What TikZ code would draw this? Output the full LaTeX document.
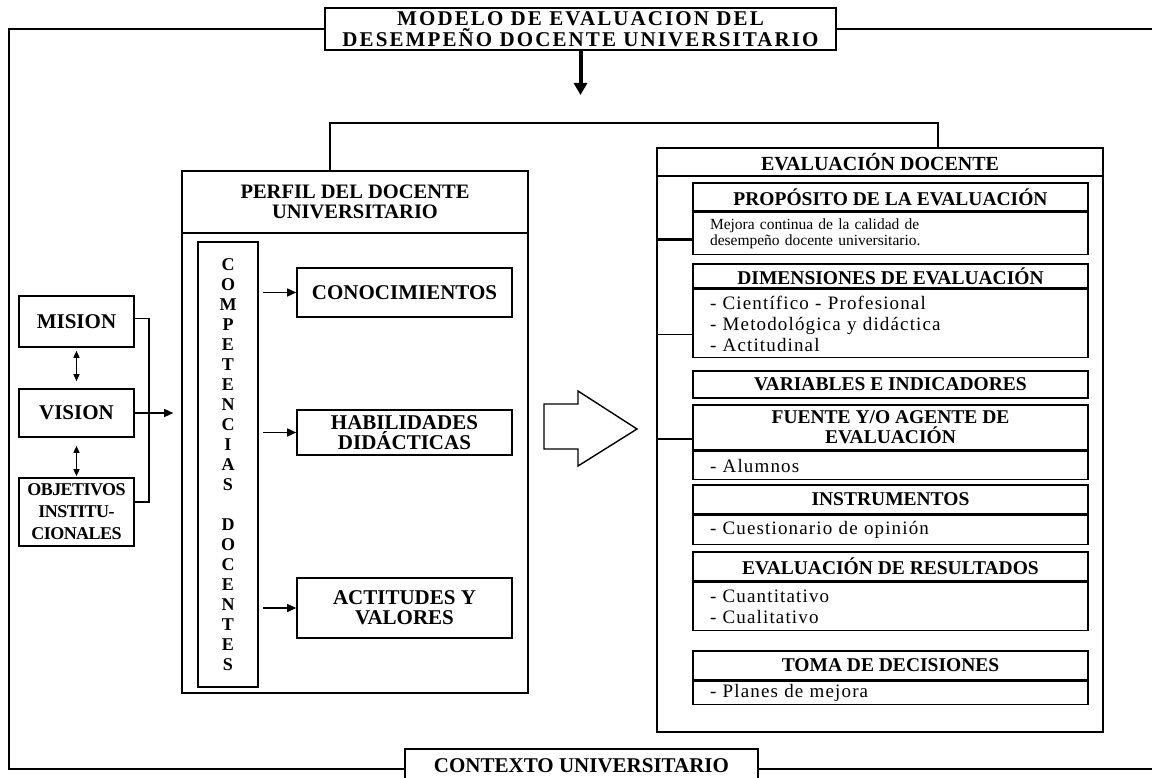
\documentclass[tikz,border=0pt]{standalone}
\usepackage{fontspec}
\setmainfont{Liberation Serif}
\usepackage{tikz}
\usetikzlibrary{arrows.meta,positioning}

\tikzset{
  caja/.style={draw, line width=1.6pt, inner sep=0pt, align=center,
    font=\bfseries\fontsize{21}{20}\selectfont},
  cabeza/.style={caja, minimum width=395pt, font=\bfseries\fontsize{19.5}{20}\selectfont},
  cuerpo/.style={draw, line width=1.6pt, anchor=north, minimum width=395pt, text width=361pt,
    inner xsep=17pt, inner ysep=0pt, align=left,
    font=\fontsize{19}{21}\selectfont\addfontfeatures{LetterSpace=6}},
  linea/.style={line width=1.6pt},
  flechita/.style={line width=1.5pt, -{Triangle[length=9pt,width=8pt]}},
  doble/.style={line width=1.4pt, {Triangle[length=7pt,width=6pt]}-{Triangle[length=7pt,width=6pt]}},
}

\begin{document}
\begin{tikzpicture}[x=1pt, y=-1pt]
\useasboundingbox (0,0) rectangle (1152,778);
\clip (0,0) rectangle (1152,778);

% marco general
\node[caja, minimum width=511pt, minimum height=42pt,
  font=\bfseries\fontsize{21}{21}\selectfont\addfontfeatures{LetterSpace=10}]
  (titulo) at (580.5,29) {MODELO DE EVALUACION DEL\\DESEMPEÑO DOCENTE UNIVERSITARIO};
\node[caja, anchor=north, minimum width=353pt, minimum height=34pt] (contexto) at (581.5,748) {CONTEXTO UNIVERSITARIO};
\coordinate (esq1) at (9,29);
\coordinate (esq2) at (9,769);
\coordinate (fin1) at (1152,29);
\coordinate (fin2) at (1152,769);
\draw[linea] (titulo.west) -- (esq1) -- (esq2) -- (esq2 -| contexto.west);
\draw[linea] (titulo.east) -- (fin1);
\draw[linea] (fin2 -| contexto.east) -- (fin2);
\coordinate (bajada) at (580.5,95);
\draw[line width=4pt, -{Triangle[length=12pt,width=13pt]}] (titulo.south) -- (bajada);

% mision, vision, objetivos
\node[caja, minimum width=115pt, minimum height=51pt] (mision) at (76.5,321.5) {MISION};
\node[caja, minimum width=115pt, minimum height=48pt] (vision) at (76.5,413) {VISION};
\node[caja, minimum width=115pt, minimum height=68pt,
  font=\bfseries\fontsize{18}{22}\selectfont\addfontfeatures{LetterSpace=-3}]
  (objet) at (76.5,512) {OBJETIVOS\\INSTITU-\\CIONALES};
\draw[doble, shorten <=3pt, shorten >=7pt] (mision) -- (vision);
\draw[doble, shorten <=8pt, shorten >=1pt] (vision) -- (objet);
\draw[linea] ([yshift=3pt]mision.east) -- ++(14,0) |- ([yshift=10pt]objet.east);

% perfil del docente
\node[caja, minimum width=346pt, minimum height=522pt] (perfil) at (355,432) {};
\node[caja, anchor=north, minimum width=346pt, minimum height=62pt,
  font=\bfseries\fontsize{20.5}{20}\selectfont] (perfilcab) at (perfil.north) {PERFIL DEL DOCENTE\\UNIVERSITARIO};
\coordinate (llegada) at ([xshift=-8pt]perfil.west |- vision.east);
\draw[flechita] (vision.east) -- (llegada);
\node[caja, minimum width=60pt, minimum height=445pt, font=\bfseries\fontsize{18}{20}\selectfont]
  (compet) at (228,464.5) {C\\O\\M\\P\\E\\T\\E\\N\\C\\I\\A\\S\\[20pt]D\\O\\C\\E\\N\\T\\E\\S};
\node[caja, minimum width=215pt, minimum height=49pt] (conoc) at (404.5,292.5) {CONOCIMIENTOS};
\node[caja, minimum width=215pt, minimum height=45pt] (habil) at (404.5,432.5) {HABILIDADES\\DIDÁCTICAS};
\node[caja, minimum width=215pt, minimum height=60pt] (actit) at (404.5,608) {ACTITUDES Y\\VALORES};
\foreach \destino in {conoc,habil,actit}
  \draw[flechita] ([xshift=4pt]compet.east |- \destino.west) -- (\destino.west);

% flecha hueca
\draw[line width=1.4pt] (544,404) -- (578,404) -- (578,391) -- (637,429) -- (578,466) -- (578,449) -- (544,449) -- cycle;

% evaluacion docente
\node[caja, minimum width=446pt, minimum height=584pt] (evaluacion) at (880,440) {};
\node[caja, anchor=north, minimum width=446pt, minimum height=28pt,
  font=\bfseries\fontsize{20}{20}\selectfont] (evalcab) at (evaluacion.north) {EVALUACIÓN DOCENTE};
\coordinate (techo) at (0,123);
\draw[linea] ([xshift=-25pt]perfil.north) |- ([xshift=58pt]evaluacion.north |- techo) -- ([xshift=58pt]evaluacion.north);

\node[cabeza, minimum height=28pt] (prop) at (890.5,197) {PROPÓSITO DE LA EVALUACIÓN};
\node[cuerpo, minimum height=42pt, font=\fontsize{15.5}{16}\selectfont] (propc) at (prop.south)
  {Mejora continua de la calidad de\\desempeño docente universitario.};
\node[cabeza, minimum height=24pt] (dimen) at (890.5,276) {DIMENSIONES DE EVALUACIÓN};
\node[cuerpo, minimum height=68pt] (dimenc) at (dimen.south)
  {- Científico - Profesional\\- Metodológica y didáctica\\- Actitudinal};
\node[cabeza, minimum height=27pt] (varia) at (890.5,384.5) {VARIABLES E INDICADORES};
\node[cabeza, minimum height=45pt] (fuente) at (890.5,427.5) {FUENTE Y/O AGENTE DE\\EVALUACIÓN};
\node[cuerpo, minimum height=28pt] (fuentec) at (fuente.south) {- Alumnos};
\node[cabeza, minimum height=29pt] (instr) at (890.5,499.5) {INSTRUMENTOS};
\node[cuerpo, minimum height=29pt] (instrc) at (instr.south) {- Cuestionario de opinión};
\node[cabeza, minimum height=29pt] (result) at (890.5,566.5) {EVALUACIÓN DE RESULTADOS};
\node[cuerpo, minimum height=48pt] (resultc) at (result.south) {- Cuantitativo\\- Cualitativo};
\node[cabeza, minimum height=29pt] (toma) at (890.5,665.5) {TOMA DE DECISIONES};
\node[cuerpo, minimum height=23pt] (tomac) at (toma.south) {- Planes de mejora};

\draw[line width=3pt] ([yshift=-6pt]propc.west) -- ([yshift=-6pt]propc.west -| evaluacion.west);
\draw[linea] ([yshift=-11pt]dimenc.west) -- ([yshift=-11pt]dimenc.west -| evaluacion.west);
\draw[linea] ([yshift=-11.5pt]fuente.west) -- ([yshift=-11.5pt]fuente.west -| evaluacion.west);
\end{tikzpicture}
\end{document}
